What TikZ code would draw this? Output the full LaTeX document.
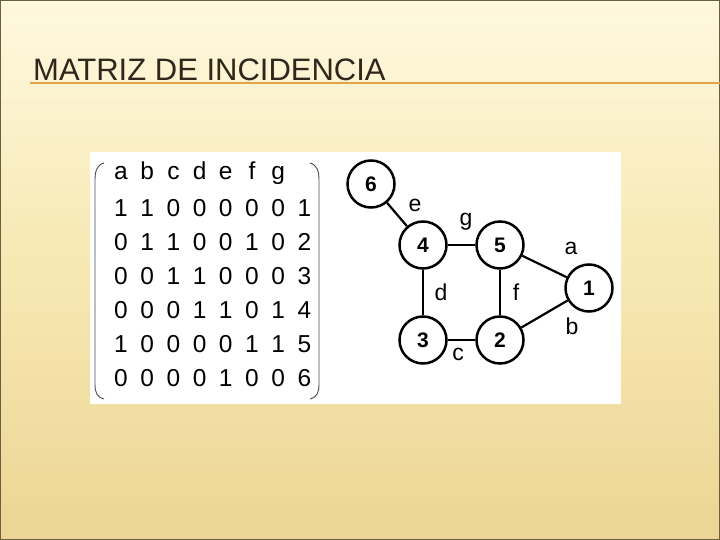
\documentclass[tikz,border=0pt]{standalone}
\usepackage{fontspec}
\setmainfont{Liberation Sans}
\definecolor{bgtop}{HTML}{FEF8DE}
\definecolor{bgmid}{HTML}{F7E8B2}
\definecolor{bgbot}{HTML}{ECD595}
\definecolor{frame}{HTML}{6A6040}
\definecolor{titlec}{HTML}{2E271C}
\definecolor{rulec}{HTML}{E2A448}
\begin{document}
\begin{tikzpicture}[x=1pt,y=-1pt,
  vertex/.style={circle, draw=black, line width=2.5pt, minimum size=47pt, inner sep=0pt, fill=white,
    font=\fontsize{21}{21}\selectfont\bfseries},
  edgeline/.style={line width=2.2pt, draw=black},
  elabel/.style={font=\fontsize{23}{23}\selectfont, inner sep=0pt},
  mcell/.style={font=\fontsize{24.5}{24.5}\selectfont, anchor=base, inner sep=0pt},
  paren/.style={draw=black!70, line width=0.9pt}
]
\useasboundingbox (0,0) rectangle (720,540);
% background
\foreach \k in {0,...,29} {
  \pgfmathsetmacro{\p}{100*\k/29}
  \colorlet{bandc}{bgmid!\p!bgtop}
  \fill[bandc] (0,{9*\k}) rectangle (720,{9*\k+9.5});
}
\foreach \k in {0,...,29} {
  \pgfmathsetmacro{\p}{100*\k/29}
  \colorlet{bandc}{bgbot!\p!bgmid}
  \fill[bandc] (0,{270+9*\k}) rectangle (720,{270+9*\k+9.5});
}
\draw[frame, line width=1.2pt] (0.6,0.6) rectangle (719.4,539.4);
% title
\node[anchor=base west, inner sep=0pt, text=titlec,
  font=\fontsize{31}{31}\selectfont] (title) at (33,80.5) {MATRIZ DE INCIDENCIA};
\draw[rulec, line width=1.2pt] (30,83) -- (720,83);
% white panel
\fill[white] (90,152) rectangle (621,404);
% matrix header
\foreach \l [count=\i] in {a,b,c,d,e,f,g} {
  \node[mcell] (h\i) at ({121+26.2*(\i-1)},180) {\l};
}
% matrix rows
\foreach \row [count=\r] in {{1,1,0,0,0,0,0,1},{0,1,1,0,0,1,0,2},{0,0,1,1,0,0,0,3},{0,0,0,1,1,0,1,4},{1,0,0,0,0,1,1,5},{0,0,0,0,1,0,0,6}} {
  \foreach \v [count=\c] in \row {
    \node[mcell] (m\r-\c) at ({121+26.2*(\c-1)},{216+34*(\r-1)}) {\v};
  }
}
% parentheses
\draw[paren] (104,163) .. controls (97,165) and (95,171) .. (95,180) -- (95,384)
  .. controls (95,393) and (97,397) .. (104,399);
\draw[paren] (310,163) .. controls (317,165) and (319,171) .. (319,180) -- (319,384)
  .. controls (319,393) and (317,397) .. (310,399);
% graph
\node[vertex] (n6) at (371,184) {6};
\node[vertex] (n4) at (423,245) {4};
\node[vertex] (n5) at (500,245) {5};
\node[vertex] (n1) at (589,288) {1};
\node[vertex] (n3) at (423,340) {3};
\node[vertex] (n2) at (500,340) {2};
\draw[edgeline] (n6) -- (n4);
\draw[edgeline] (n4) -- (n5);
\draw[edgeline] (n5) -- (n1);
\draw[edgeline] (n2) -- (n1);
\draw[edgeline] (n4) -- (n3);
\draw[edgeline] (n5) -- (n2);
\draw[edgeline] (n3) -- (n2);
\node[elabel] (le) at (415,205) {e};
\node[elabel] (lg) at (466,222) {g};
\node[elabel] (la) at (571,248) {a};
\node[elabel] (lb) at (572,326) {b};
\node[elabel] (ld) at (441,292) {d};
\node[elabel] (lf) at (516,292) {f};
\node[elabel] (lc) at (458,354) {c};
\end{tikzpicture}
\end{document}
